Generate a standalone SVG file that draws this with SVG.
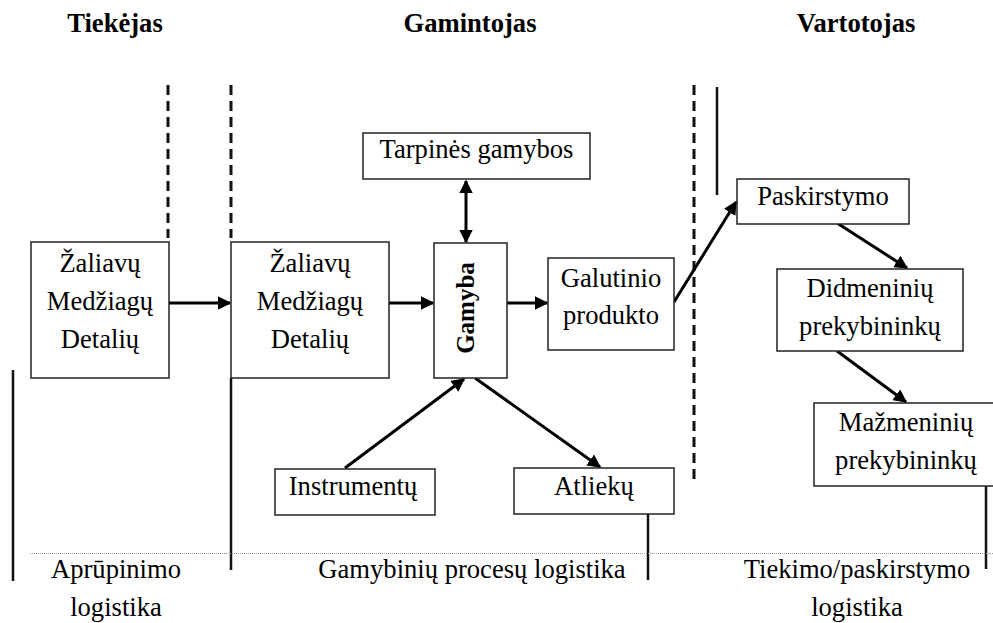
<svg xmlns="http://www.w3.org/2000/svg" width="993" height="623" viewBox="0 0 993 623">
<style>
.t{font-family:"Liberation Serif","Times New Roman",serif;font-size:26.6px;fill:#000;text-anchor:middle}
.h{font-family:"Liberation Serif","Times New Roman",serif;font-size:26.6px;font-weight:bold;fill:#000;text-anchor:middle}
.g{font-family:"Liberation Serif","Times New Roman",serif;font-size:25px;font-weight:bold;fill:#000;text-anchor:middle}
.box{fill:#fff;stroke:#222;stroke-width:1.5}
.arr{stroke:#000;stroke-width:3;fill:none;marker-end:url(#ah)}
.dash{stroke:#111;stroke-width:3;stroke-dasharray:10 6;fill:none}
.sol{stroke:#111;stroke-width:2.5;fill:none}
</style>
<defs>
<marker id="ah" viewBox="0 0 10 10" refX="9" refY="5" markerWidth="4.5" markerHeight="4.5" orient="auto-start-reverse" markerUnits="strokeWidth">
<path d="M0,0 L10,5 L0,10 z" fill="#000"/>
</marker>
</defs>
<rect width="993" height="623" fill="#fff"/>
<g id="headers">
<text class="h" x="115" y="32">Tiekėjas</text>
<text class="h" x="470" y="32">Gamintojas</text>
<text class="h" x="856" y="32">Vartotojas</text>
</g>
<g id="separators">
<line class="dash" x1="168" y1="85" x2="168" y2="238"/>
<line class="dash" x1="231" y1="85" x2="231" y2="238"/>
<line class="dash" x1="694" y1="85" x2="694" y2="480"/>
<line class="sol" x1="717" y1="87" x2="717" y2="195"/>
<line class="sol" x1="13" y1="370" x2="13" y2="581"/>
<line class="sol" x1="231" y1="378" x2="231" y2="570"/>
<line class="sol" x1="648" y1="514" x2="648" y2="580"/>
<line class="sol" x1="986" y1="486" x2="986" y2="569"/>
<line x1="30" y1="553.5" x2="993" y2="553.5" stroke="#999" stroke-width="1" stroke-dasharray="1 1"/>
</g>
<g id="connectors">
<line class="arr" x1="169" y1="303" x2="230" y2="303"/>
<line class="arr" x1="389" y1="303" x2="433" y2="303"/>
<line class="arr" x1="507" y1="303" x2="547" y2="303"/>
<line class="arr" x1="466" y1="181" x2="466" y2="242" marker-start="url(#ah)"/>
<line class="arr" x1="674" y1="302" x2="736" y2="202"/>
<line class="arr" x1="837" y1="223" x2="907" y2="268"/>
<line class="arr" x1="837" y1="351" x2="906" y2="402"/>
<line class="arr" x1="345" y1="468" x2="464" y2="379"/>
<line class="arr" x1="475" y1="378" x2="600" y2="467"/>
</g>
<g id="n1">
<rect class="box" x="31" y="242" width="138" height="136"/>
<text class="t" x="100" y="272">Žaliavų</text>
<text class="t" x="100" y="310">Medžiagų</text>
<text class="t" x="100" y="348">Detalių</text>
</g>
<g id="n2">
<rect class="box" x="231" y="242" width="158" height="136"/>
<text class="t" x="310" y="272">Žaliavų</text>
<text class="t" x="310" y="310">Medžiagų</text>
<text class="t" x="310" y="348">Detalių</text>
</g>
<g id="gamyba">
<rect class="box" x="434" y="243" width="73" height="135"/>
<text class="g" x="0" y="0" transform="translate(474,308) rotate(-90)">Gamyba</text>
</g>
<g id="tarpines">
<rect class="box" x="363" y="133" width="227" height="46"/>
<text class="t" x="476.5" y="158">Tarpinės gamybos</text>
</g>
<g id="galutinio">
<rect class="box" x="548" y="258" width="126" height="92"/>
<text class="t" x="611" y="287">Galutinio</text>
<text class="t" x="611" y="324">produkto</text>
</g>
<g id="paskirstymo">
<rect class="box" x="737" y="179" width="172" height="45"/>
<text class="t" x="823" y="205">Paskirstymo</text>
</g>
<g id="didmeniniu">
<rect class="box" x="777" y="269" width="186" height="82"/>
<text class="t" x="870" y="297">Didmeninių</text>
<text class="t" x="870" y="335">prekybininkų</text>
</g>
<g id="mazmeniniu">
<rect class="box" x="814" y="403" width="180" height="83"/>
<text class="t" x="906" y="431">Mažmeninių</text>
<text class="t" x="906" y="469">prekybininkų</text>
</g>
<g id="instrumentu">
<rect class="box" x="275" y="469" width="160" height="46"/>
<text class="t" x="353" y="495">Instrumentų</text>
</g>
<g id="atlieku">
<rect class="box" x="514" y="468" width="160" height="46"/>
<text class="t" x="594" y="495">Atliekų</text>
</g>
<g id="footer">
<text class="t" x="116" y="578">Aprūpinimo</text>
<text class="t" x="116" y="616">logistika</text>
<text class="t" x="472" y="578">Gamybinių procesų logistika</text>
<text class="t" x="857" y="578">Tiekimo/paskirstymo</text>
<text class="t" x="857" y="616">logistika</text>
</g>
</svg>
